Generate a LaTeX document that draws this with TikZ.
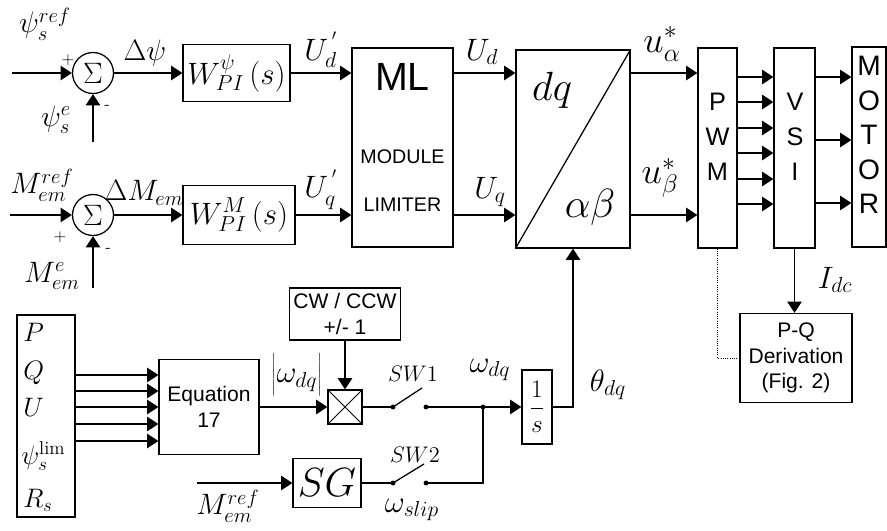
\RequirePackage{fix-cm}
\documentclass[tikz,border=0pt]{standalone}
\usepackage{fontspec}
\setsansfont{Liberation Sans}
\usepackage{tikz}
\usetikzlibrary{arrows.meta,calc}
\tikzset{
  blk/.style={rectangle,draw,line width=0.9pt,inner sep=0pt,align=center},
  sumnode/.style={circle,draw,line width=0.9pt,inner sep=0pt,minimum size=1.025cm,font=\fontsize{21}{21}\selectfont},
  arr/.style={-{Triangle[length=2.8mm,width=3.6mm]},line width=0.9pt},
  wire/.style={line width=0.9pt},
  lbl/.style={inner sep=0pt,font=\fontsize{19}{22}\selectfont},
  lblmid/.style={inner sep=0pt,font=\fontsize{21}{23}\selectfont},
  lblbig/.style={inner sep=0pt,font=\fontsize{22}{24}\selectfont},
  lblhuge/.style={inner sep=0pt,font=\fontsize{26}{28}\selectfont},
  swlbl/.style={inner sep=0pt,font=\fontsize{16}{18}\selectfont},
  sgn/.style={inner sep=0pt,font=\fontsize{12}{12}\selectfont},
  bigmath/.style={font=\fontsize{22}{26}\selectfont},
  hugemath/.style={inner sep=0pt,font=\fontsize{29}{30}\selectfont},
  sanstxt/.style={align=center,font=\sffamily\fontsize{15}{18}\selectfont},
  contact/.style={circle,fill,inner sep=0pt,minimum size=3.5pt}
}
\begin{document}
\begin{tikzpicture}[x=0.025cm,y=-0.025cm]
  \useasboundingbox (0,0) rectangle (887,531);

  \node[sumnode] (sum1) at (93,73) {$\Sigma$};
  \node[sumnode] (sum2) at (93,215) {$\Sigma$};
  \node[blk,bigmath,minimum width=2.675cm,minimum height=1.425cm] (pi1) at (236.5,73) {$W_{PI}^{\psi}\,(s)$};
  \node[blk,bigmath,minimum width=2.8cm,minimum height=1.475cm] (pi2) at (239,215) {$W_{PI}^{M}\,(s)$};
  \node[blk,minimum width=2.525cm,minimum height=4.975cm] (ml) at (402.5,147.5) {};
  \node[font=\sffamily\fontsize{28}{28}\selectfont] (mltitle) at (402.5,77) {ML};
  \node[align=center,font=\sffamily\fontsize{14}{34}\selectfont] (mltext) at (402.5,181) {MODULE\\LIMITER};
  \node[blk,minimum width=2.85cm,minimum height=4.95cm] (dq) at (573,149) {};
  \node[hugemath] (dqtop) at (552,90) {$dq$};
  \node[hugemath] (dqbot) at (590,207) {$\alpha\beta$};
  \node[blk,minimum width=0.975cm,minimum height=5cm] (pwm) at (717.5,148) {};
  \node[align=center,font=\sffamily\fontsize{18}{25}\selectfont] (pwmtxt) at (717.5,137) {P\\W\\M};
  \node[blk,minimum width=1.025cm,minimum height=5cm] (vsi) at (794.5,148) {};
  \node[align=center,font=\sffamily\fontsize{18}{25}\selectfont] (vsitxt) at (795,137) {V\\S\\I};
  \node[blk,minimum width=0.85cm,minimum height=5cm] (motor) at (869,147) {};
  \node[align=center,font=\sffamily\fontsize{20}{24.5}\selectfont] (motortxt) at (869,135) {M\\O\\T\\O\\R};

  \node[lblmid] (ref1) at (45,24) {$\psi_s^{ref}$};
  \node[lblmid] (fb1lbl) at (56,120) {$\psi_s^{e}$};
  \node[sgn] (plus1) at (68,60) {+};
  \node[sgn] (minus1) at (107,107) {-};
  \node[lblmid] (dpsi) at (145,53) {$\Delta\psi$};
  \node[lblbig] (udp) at (321,50) {$U_d^{\,'}$};
  \node[lblbig] (ud) at (482,52) {$U_d$};
  \node[lblhuge] (ua) at (662,44) {$u_\alpha^{*}$};
  \node[lblmid] (ref2) at (42,185) {$M_{em}^{ref}$};
  \node[lblmid] (fb2lbl) at (52,276) {$M_{em}^{e}$};
  \node[sgn] (plus2) at (60,237) {+};
  \node[sgn] (minus2) at (108,250) {-};
  \node[lblmid] (dm) at (144,193) {$\Delta M_{em}$};
  \node[lblbig] (uqp) at (321,190) {$U_q^{\,'}$};
  \node[lblbig] (uq) at (490,192) {$U_q$};
  \node[lblhuge] (ub) at (660,178) {$u_\beta^{*}$};

  \coordinate (in1) at (12,73);
  \coordinate (in2) at (10,215);
  \coordinate (fb1) at (93,142);
  \coordinate (fb2) at (93,288);

  \draw[arr] (in1) -- (sum1.west);
  \draw[arr] (fb1) -- (sum1.south);
  \draw[arr] (sum1.east) -- (pi1.west);
  \draw[arr] (pi1.east) -- (ml.west |- pi1.east);
  \draw[arr] (ml.east |- pi1.east) -- (dq.west |- pi1.east);
  \draw[arr] (dq.east |- pi1.east) -- (pwm.west |- pi1.east);
  \draw[arr] (in2) -- (sum2.west);
  \draw[arr] (fb2) -- (sum2.south);
  \draw[arr] (sum2.east) -- (pi2.west);
  \draw[arr] (pi2.east) -- (ml.west |- pi2.east);
  \draw[arr] (ml.east |- pi2.east) -- (dq.west |- pi2.east);
  \draw[arr] (dq.east |- pi2.east) -- (pwm.west |- pi2.east);
  \draw[wire] (dq.south west) -- (dq.north east);
  \foreach \yy in {77,102,128,153,179,204}
    \draw[arr] (pwm.east |- 0,\yy) -- (vsi.west |- 0,\yy);
  \foreach \yy in {77,140,203}
    \draw[arr] (vsi.east |- 0,\yy) -- (motor.west |- 0,\yy);

  \node[blk,minimum width=1.45cm,minimum height=5.05cm] (inbox) at (46,416) {};
  \node[lbl,anchor=west] (lp) at (23,332) {$P$};
  \node[lbl,anchor=west] (lq) at (23,373) {$Q$};
  \node[lbl,anchor=west] (lu) at (23,407) {$U$};
  \node[lbl,anchor=west] (lpsi) at (21,456) {$\psi_s^{\mathrm{lim}}$};
  \node[lbl,anchor=west] (lr) at (23,500) {$R_s$};
  \node[blk,sanstxt,minimum width=2.5cm,minimum height=2.375cm] (eq) at (209,407) {Equation\\17};
  \node[blk,minimum width=0.85cm,minimum height=0.85cm] (mult) at (345,407) {};
  \node[blk,sanstxt,minimum width=2.775cm,minimum height=1.3cm] (cw) at (345,314) {CW / CCW\\+/- 1};
  \node[blk,font=\fontsize{29}{30}\selectfont,minimum width=1.7cm,minimum height=1.225cm] (sg) at (327,483) {$SG$};
  \node[blk,font=\fontsize{18}{20}\selectfont,minimum width=0.75cm,minimum height=1.85cm] (int) at (537,407) {$\displaystyle\frac{1}{s}$};
  \node[blk,sanstxt,minimum width=2.8cm,minimum height=2.225cm] (pq) at (796,358) {P-Q\\Derivation\\(Fig. 2)};
  \node[contact] (s1a) at (393,407) {};
  \node[contact] (s1b) at (426,407) {};
  \node[contact] (s2a) at (393,483) {};
  \node[contact] (s2b) at (426,483) {};
  \node[contact] (jn) at (483,407) {};
  \coordinate (s1t) at (422,388);
  \coordinate (s2t) at (424,464);
  \coordinate (sgin) at (197,483);

  \node[lblbig] (wabs) at (297,375) {$\left|\rule[-8pt]{0pt}{24pt}\omega_{dq}\right|$};
  \node[swlbl] (sw1) at (413,374) {$SW1$};
  \node[swlbl] (sw2) at (415,455) {$SW2$};
  \node[lblbig] (wslip) at (412,510) {$\omega_{slip}$};
  \node[lblmid] (ref3) at (228,506) {$M_{em}^{ref}$};
  \node[lblbig] (wdq) at (490,370) {$\omega_{dq}$};
  \node[lblbig] (theta) at (608,385) {$\theta_{dq}$};
  \node[lblbig] (idc) at (835,280) {$I_{dc}$};

  \foreach \yy in {375,391,407,424,441}
    \draw[arr] (inbox.east |- 0,\yy) -- (eq.west |- 0,\yy);
  \draw[arr] (eq.east) -- (mult.west);
  \draw[arr] (cw.south) -- (mult.north);
  \draw[line width=0.6pt] (mult.north west) -- (mult.south east) (mult.north east) -- (mult.south west);
  \draw[wire] (mult.east) -- (s1a.center);
  \draw[wire] (s1a.center) -- (s1t);
  \draw[wire] (s1b.center) -- (jn.center);
  \draw[arr] (jn.center) -- (int.west);
  \draw[arr] (sgin) -- (sg.west);
  \draw[wire] (sg.east) -- (s2a.center);
  \draw[wire] (s2a.center) -- (s2t);
  \draw[wire] (s2b.center) -| (jn.center);
  \draw[arr] (int.east) -| (dq.south);
  \draw[arr] (vsi.south) -- (vsi.south |- pq.north);
  \draw[densely dotted,line width=0.6pt] (pwm.south) |- (pq.west);
\end{tikzpicture}
\end{document}
